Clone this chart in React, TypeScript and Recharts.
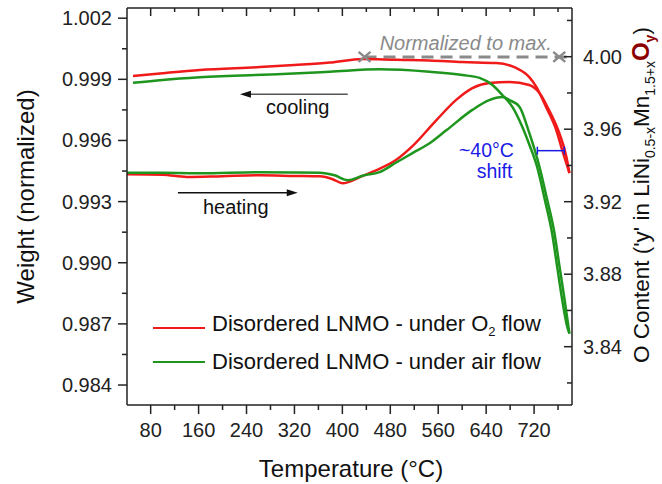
import { LineChart, Line, XAxis, YAxis, Legend, ReferenceLine, ReferenceDot } from 'recharts';

const FONT = 'Arial, "Liberation Sans", sans-serif';
const RED = '#f01a1a';
const GREEN = '#1e961e';
const INK = '#222';

// heating / cooling runs, temperature (°C) and normalized weight
const o2HeatT = [40.5, 100, 140, 200, 262, 320, 362, 384, 400, 430, 451, 490, 517, 557, 590, 617, 645, 679, 712, 729, 745, 762, 774, 779];
const o2HeatW = [0.99434, 0.99432, 0.99421, 0.99425, 0.99429, 0.99426, 0.99424, 0.9941, 0.9939, 0.99421, 0.99447, 0.99505, 0.99572, 0.997, 0.99799, 0.99857, 0.99882, 0.99887, 0.99872, 0.99833, 0.99749, 0.99637, 0.99519, 0.9944];

const o2CoolT = [50.5, 100, 162, 262, 320, 379, 434, 490, 545, 600, 657, 690, 712, 724, 740, 757, 767, 779];
const o2CoolW = [0.99916, 0.9993, 0.99946, 0.9996, 0.9997, 0.99982, 1.0, 0.99996, 0.99993, 0.99985, 0.9998, 0.99956, 0.99911, 0.99862, 0.99764, 0.99651, 0.99552, 0.9944];

const airHeatT = [40.5, 100, 162, 262, 320, 362, 387, 409, 435, 462, 490, 517, 545, 574, 617, 645, 667, 679, 695.5, 712, 729, 742, 754, 762.5, 771, 779];
const airHeatW = [0.99442, 0.99441, 0.99439, 0.99444, 0.99443, 0.99442, 0.99429, 0.99405, 0.99428, 0.99445, 0.99492, 0.99538, 0.99585, 0.99651, 0.9975, 0.99798, 0.99813, 0.99798, 0.99766, 0.99637, 0.99471, 0.99308, 0.99146, 0.98981, 0.98817, 0.98652];

const airCoolT = [50.5, 100, 162, 300, 379, 462, 545.5, 600.5, 629, 650.5, 667, 684, 700.5, 712, 725, 738, 750, 758.5, 767, 775, 779];
const airCoolW = [0.99883, 0.99897, 0.9991, 0.99926, 0.99937, 0.99949, 0.99937, 0.99921, 0.99907, 0.99872, 0.99823, 0.99764, 0.99666, 0.9958, 0.99471, 0.99308, 0.99146, 0.98981, 0.98817, 0.9869, 0.98652];

const seriesNames = ['Disordered LNMO - under O2 flow', 'Disordered LNMO - under air flow'];

const xMajor = [80, 160, 240, 320, 400, 480, 560, 640, 720];
const xMinor = [120, 200, 280, 360, 440, 520, 600, 680, 760];
const wMajor = [0.984, 0.987, 0.99, 0.993, 0.996, 0.999, 1.002];
const wMinor = [0.9855, 0.9885, 0.9915, 0.9945, 0.9975, 1.0005];
const oMajor = [3.84, 3.88, 3.92, 3.96, 4.0];
const oMinor = [3.82, 3.86, 3.9, 3.94, 3.98, 4.02];

const toPoints = (t: number[], w: number[]) => t.map((x, i) => ({ t: x, w: w[i] }));

const BottomTick = ({ x, y, payload }: any) => {
  const major = xMajor.includes(payload.value);
  return (
    <g>
      <line x1={x} y1={y} x2={x} y2={y + (major ? 9 : 5)} stroke={INK} strokeWidth={1.5} />
      {major && (
        <text x={x} y={y + 32} textAnchor="middle" fontSize={20} fill={INK} fontFamily={FONT}>
          {payload.value}
        </text>
      )}
    </g>
  );
};

const TopTick = ({ x, y, payload }: any) => {
  const major = xMajor.includes(payload.value);
  return <line x1={x} y1={y} x2={x} y2={y + (major ? 8 : 4)} stroke={INK} strokeWidth={1.5} />;
};

const LeftTick = ({ x, y, payload }: any) => {
  const major = wMajor.includes(payload.value);
  return (
    <g>
      <line x1={x - (major ? 9 : 5)} y1={y} x2={x} y2={y} stroke={INK} strokeWidth={1.5} />
      {major && (
        <text x={x - 15} y={y + 7} textAnchor="end" fontSize={20} fill={INK} fontFamily={FONT}>
          {payload.value.toFixed(3)}
        </text>
      )}
    </g>
  );
};

const RightTick = ({ x, y, payload }: any) => {
  const major = oMajor.includes(payload.value);
  return (
    <g>
      <line x1={x - (major ? 8 : 5)} y1={y} x2={x} y2={y} stroke={INK} strokeWidth={1.5} />
      {major && (
        <text x={x + 11} y={y + 7} textAnchor="start" fontSize={20} fill={INK} fontFamily={FONT}>
          {payload.value.toFixed(2)}
        </text>
      )}
    </g>
  );
};

const arrow = (color: string) => (p: any) => {
  const { x1, y1, x2, y2 } = p;
  const d = x2 > x1 ? 1 : -1;
  return (
    <g>
      <line x1={x1} y1={y1} x2={x2 - d * 8} y2={y2} stroke={color} strokeWidth={1.5} />
      <polygon points={`${x2},${y2} ${x2 - d * 11},${y2 - 3.5} ${x2 - d * 11},${y2 + 3.5}`} fill="#111" />
    </g>
  );
};

const bracket = (p: any) => {
  const { x1, y1, x2, y2 } = p;
  return (
    <g stroke="#1a1ae6" strokeWidth={1.5}>
      <line x1={x1} y1={y1} x2={x2} y2={y2} />
      <line x1={x1} y1={y1 - 4} x2={x1} y2={y1 + 4} />
      <line x1={x2} y1={y2 - 4} x2={x2} y2={y2 + 4} />
    </g>
  );
};

const cross = (p: any) => (
  <g stroke="#8a8a8a" strokeWidth={2.5}>
    <line x1={p.cx - 6} y1={p.cy - 5} x2={p.cx + 6} y2={p.cy + 5} />
    <line x1={p.cx - 6} y1={p.cy + 5} x2={p.cx + 6} y2={p.cy - 5} />
  </g>
);

const label = (txt: string, color: string, extra: any = {}) => (p: any) => (
  <text x={p.cx} y={p.cy} textAnchor="middle" fontSize={20} fill={color} fontFamily={FONT} {...extra}>
    {txt}
  </text>
);

const legendName = (name: string) => {
  const i = name.indexOf('O2');
  if (i < 0) return name;
  return (
    <>
      {name.slice(0, i)}O<sub style={{ fontSize: 13 }}>2</sub>
      {name.slice(i + 2)}
    </>
  );
};

const renderLegend = (props: any) => {
  const items = (props.payload || []).filter((e: any) => e.type !== 'none');
  return (
    <div style={{ fontFamily: FONT, fontSize: 22, color: '#111' }}>
      {items.map((e: any) => (
        <div key={e.value} style={{ display: 'flex', alignItems: 'center', height: 34, lineHeight: '22px' }}>
          <span style={{ display: 'inline-block', width: 52, borderTop: `2.5px solid ${e.color}`, marginRight: 7 }} />
          <span>{legendName(e.value)}</span>
        </div>
      ))}
    </div>
  );
};

export default function App() {
  const lineProps = { xAxisId: 'b', yAxisId: 'w', dataKey: 'w', type: 'monotone' as const, dot: false, strokeWidth: 2.5, isAnimationActive: false };
  return (
    <div style={{ position: 'absolute', left: 0, top: 0 }}>
      <LineChart width={662} height={484} margin={{ top: 7, right: 0, bottom: 0, left: 0 }}>
        <XAxis xAxisId="b" dataKey="t" type="number" domain={[40.5, 783.3]} allowDataOverflow ticks={[...xMajor, ...xMinor]}
          interval={0} height={79} tickSize={0} tickMargin={0} tickLine={false} tick={BottomTick}
          axisLine={{ stroke: INK, strokeWidth: 1.5 }} />
        <XAxis xAxisId="top" orientation="top" dataKey="t" type="number" domain={[40.5, 783.3]} allowDataOverflow
          ticks={[...xMajor, ...xMinor]} interval={0} height={1} tickSize={0} tickMargin={0} tickLine={false} tick={TopTick}
          axisLine={{ stroke: INK, strokeWidth: 1.5 }} />
        <YAxis yAxisId="w" type="number" domain={[0.98302, 1.0025]} allowDataOverflow ticks={[...wMajor, ...wMinor]}
          interval={0} width={127} tickSize={0} tickMargin={0} tickLine={false} tick={LeftTick}
          axisLine={{ stroke: INK, strokeWidth: 1.5 }} />
        <YAxis yAxisId="o" orientation="right" type="number" domain={[3.80783, 4.02687]} allowDataOverflow
          ticks={[...oMajor, ...oMinor]} interval={0} width={90} tickSize={0} tickMargin={0} tickLine={false} tick={RightTick}
          axisLine={{ stroke: INK, strokeWidth: 1.5 }} />

        <ReferenceLine xAxisId="b" yAxisId="w" segment={[{ x: 437, y: 1.0001 }, { x: 783.3, y: 1.0001 }]}
          stroke="#8a8a8a" strokeWidth={3} strokeDasharray="12 7" />
        <ReferenceDot xAxisId="b" yAxisId="w" x={437} y={1.0001} shape={cross} />
        <ReferenceDot xAxisId="b" yAxisId="w" x={762} y={1.0001} shape={cross} />
        <ReferenceDot xAxisId="b" yAxisId="w" x={606} y={1.00044} shape={label('Normalized to max.', '#8a8a8a', { fontStyle: 'italic' })} />

        <Line {...lineProps} data={toPoints(o2HeatT, o2HeatW)} name={seriesNames[0]} stroke={RED} />
        <Line {...lineProps} data={toPoints(o2CoolT, o2CoolW)} name={seriesNames[0] + ' (cooling)'} stroke={RED} legendType="none" />
        <Line {...lineProps} data={toPoints(airHeatT, airHeatW)} name={seriesNames[1]} stroke={GREEN} />
        <Line {...lineProps} data={toPoints(airCoolT, airCoolW)} name={seriesNames[1] + ' (cooling)'} stroke={GREEN} legendType="none" />

        <ReferenceLine xAxisId="b" yAxisId="w" segment={[{ x: 409, y: 0.99827 }, { x: 229, y: 0.99827 }]} shape={arrow('#555')} />
        <ReferenceDot xAxisId="b" yAxisId="w" x={325.5} y={0.9973} shape={label('cooling', '#111')} />
        <ReferenceLine xAxisId="b" yAxisId="w" segment={[{ x: 125.5, y: 0.99344 }, { x: 325.5, y: 0.99344 }]} shape={arrow('#111')} />
        <ReferenceDot xAxisId="b" yAxisId="w" x={222} y={0.99239} shape={label('heating', '#111')} />

        <ReferenceLine xAxisId="b" yAxisId="w" segment={[{ x: 725.5, y: 0.9955 }, { x: 770.5, y: 0.9955 }]} shape={bracket} />
        <ReferenceDot xAxisId="b" yAxisId="w" x={640.5} y={0.99517} shape={label('~40°C', '#1a1ae6', { fontSize: 19.5 })} />
        <ReferenceDot xAxisId="b" yAxisId="w" x={654} y={0.99416} shape={label('shift', '#1a1ae6', { fontSize: 19.5 })} />

        <Legend layout="vertical" align="center" verticalAlign="middle" content={renderLegend}
          wrapperStyle={{ left: 153, top: 311, width: 440, height: 70 }} />

        <text x={351} y={477} textAnchor="middle" fontSize={24} fill="#111" fontFamily={FONT}>Temperature (°C)</text>
        <text transform="translate(34,196.5) rotate(-90)" textAnchor="middle" fontSize={24} fill="#111" fontFamily={FONT}>
          Weight (normalized)
        </text>
        <text transform="translate(649,363) rotate(-90)" textAnchor="start" fontSize={22.5} fill="#111" fontFamily={FONT}>
          O Content ('y' in LiNi
          <tspan fontSize={14} dy={6}>0.5-x</tspan>
          <tspan dy={-6}>Mn</tspan>
          <tspan fontSize={14} dy={6}>1.5+x</tspan>
          <tspan dy={-6} fill="#8b0000" fontWeight="bold" fontSize={24}>O</tspan>
          <tspan fontSize={14} dy={6} fill="#8b0000" fontWeight="bold">y</tspan>
          <tspan dy={-6}>)</tspan>
        </text>
      </LineChart>
    </div>
  );
}
